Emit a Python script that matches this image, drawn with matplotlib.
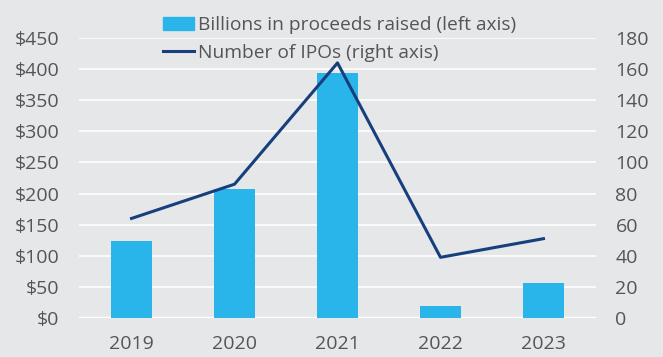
import matplotlib
matplotlib.use("Agg")
import matplotlib.pyplot as plt
from matplotlib.patches import Patch
from matplotlib.lines import Line2D

years = ["2019", "2020", "2021", "2022", "2023"]
proceeds = [123, 207, 394, 19, 56]
ipos = [64, 86, 164, 39, 51]
left_ticks = [0, 50, 100, 150, 200, 250, 300, 350, 400, 450]
right_ticks = [0, 20, 40, 60, 80, 100, 120, 140, 160, 180]

bg = "#e6e7e9"
bar_c = "#29b5ea"
line_c = "#173f7e"
txt_c = "#555555"

plt.rcParams['font.family'] = ['Open Sans', 'DejaVu Sans']

W, H = 663, 357
fig = plt.figure(figsize=(6.63, 3.57), dpi=100, facecolor=bg)
ax = fig.add_axes([79/W, 1-318/H, (596-79)/W, (318-38)/H])
ax.set_facecolor(bg)
x = list(range(len(years)))
ax.bar(x, proceeds, width=0.4, color=bar_c, zorder=3)
ax.set_ylim(0, 450)
ax.set_yticks(left_ticks)
ax.set_yticklabels([f"${v}" for v in left_ticks])
ax.set_xlim(-0.51, 4.51)
ax.set_xticks(x)
ax.set_xticklabels(years)
ax.grid(axis='y', color='white', linewidth=1.2, zorder=0)
ax.axhline(0, color='white', linewidth=2.5, zorder=2)
for s in ax.spines.values():
    s.set_visible(False)
ax.tick_params(length=0, labelsize=14, colors=txt_c, pad=14)
ax.tick_params(axis='x', pad=12)

ax2 = ax.twinx()
ax2.plot(x, ipos, color=line_c, linewidth=2.2, zorder=4)
ax2.set_ylim(0, 180)
ax2.set_yticks(right_ticks)
for s in ax2.spines.values():
    s.set_visible(False)
ax2.tick_params(length=0, labelsize=14, colors=txt_c, pad=14)

handles = [Patch(color=bar_c), Line2D([0], [0], color=line_c, linewidth=2.2)]
labels = ["Billions in proceeds raised (left axis)", "Number of IPOs (right axis)"]
leg = fig.legend(handles, labels, loc='upper left', bbox_to_anchor=(163/W, 1-16/H),
                 frameon=False, fontsize=13.8, handlelength=1.6, handletextpad=0.2,
                 labelspacing=0.5, borderaxespad=0, borderpad=0)
for t in leg.get_texts():
    t.set_color(txt_c)

fig.savefig("out.png", dpi=100, facecolor=bg)
